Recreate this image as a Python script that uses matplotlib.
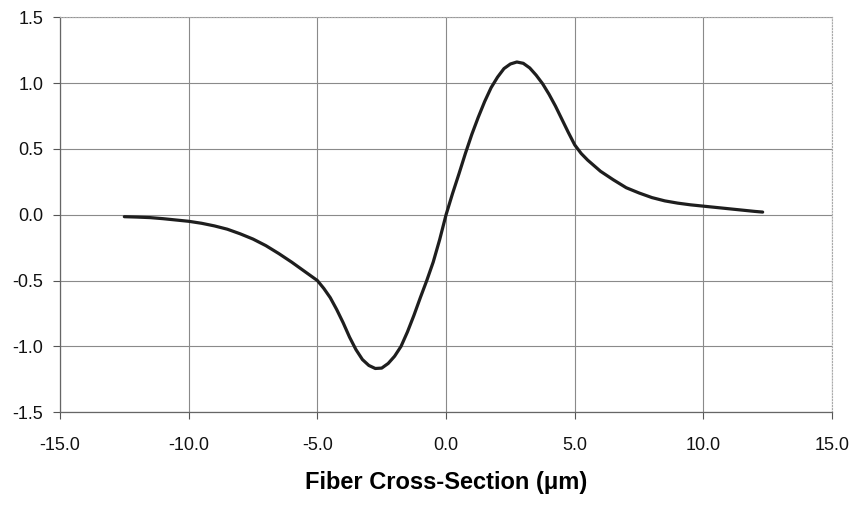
import numpy as np
import matplotlib.pyplot as plt

# Field profile across the fiber (x in micrometres)
pos_um = [-12.5, -12.0, -11.5, -11.0, -10.5, -10.0, -9.5, -9.0, -8.5, -8.0,
          -7.5, -7.0, -6.5, -6.0, -5.5, -5.0, -4.75, -4.5, -4.25, -4.0,
          -3.75, -3.5, -3.25, -3.0, -2.75, -2.5, -2.25, -2.0, -1.75, -1.5,
          -1.25, -1.0, -0.75, -0.5, -0.25, 0.0, 0.25, 0.5, 0.75, 1.0,
          1.25, 1.5, 1.75, 2.0, 2.25, 2.5, 2.75, 3.0, 3.25, 3.5,
          3.75, 4.0, 4.25, 4.5, 4.75, 5.0, 5.25, 5.5, 6.0, 6.5,
          7.0, 7.5, 8.0, 8.5, 9.0, 9.5, 10.0, 10.5, 11.0, 11.5,
          12.0, 12.3]
field = [-0.015, -0.018, -0.022, -0.030, -0.040, -0.050, -0.065, -0.085, -0.110, -0.145,
         -0.185, -0.235, -0.295, -0.360, -0.430, -0.500, -0.560, -0.630, -0.720, -0.820,
         -0.930, -1.025, -1.100, -1.145, -1.168, -1.165, -1.130, -1.075, -1.000, -0.890,
         -0.765, -0.630, -0.500, -0.360, -0.190, 0.000, 0.160, 0.310, 0.465, 0.610,
         0.740, 0.860, 0.965, 1.045, 1.110, 1.145, 1.160, 1.150, 1.115, 1.060,
         0.995, 0.915, 0.825, 0.725, 0.625, 0.530, 0.465, 0.415, 0.330, 0.265,
         0.205, 0.165, 0.130, 0.105, 0.088, 0.075, 0.065, 0.055, 0.045, 0.035,
         0.025, 0.020]

x_ticks = np.arange(-15, 15.1, 5)
y_ticks = np.arange(-1.5, 1.51, 0.5)

plt.rcParams['font.family'] = ['Liberation Sans', 'DejaVu Sans']

fig = plt.figure(figsize=(8.57, 5.07), dpi=100)
ax = fig.add_axes([0.070, 0.187, 0.901, 0.779])

ax.plot(pos_um, field, color='#1e1e1e', linewidth=2.3,
        solid_capstyle='round', solid_joinstyle='round', zorder=3)

ax.set_xlim(-15, 15)
ax.set_ylim(-1.5, 1.5)
ax.set_xticks(x_ticks)
ax.set_yticks(y_ticks)
ax.set_xticklabels(['%.1f' % v for v in x_ticks], fontsize=13)
ax.set_yticklabels(['%.1f' % v for v in y_ticks], fontsize=13)
ax.tick_params(direction='out', length=5, width=0.8, color='#555555', labelcolor='#111111')
ax.tick_params(axis='x', pad=13)
ax.tick_params(axis='y', pad=7)

ax.grid(True, color='#8a8a8a', linewidth=0.8)
ax.set_axisbelow(True)

for side in ['left', 'bottom']:
    ax.spines[side].set_color('#666666')
    ax.spines[side].set_linewidth(0.9)
for side in ['top', 'right']:
    ax.spines[side].set_color('#aaaaaa')
    ax.spines[side].set_linestyle(':')
    ax.spines[side].set_linewidth(0.8)

ax.set_xlabel('Fiber Cross-Section (\u03bcm)', fontsize=17, fontweight='bold', labelpad=12)

fig.savefig('out.png', dpi=100)
